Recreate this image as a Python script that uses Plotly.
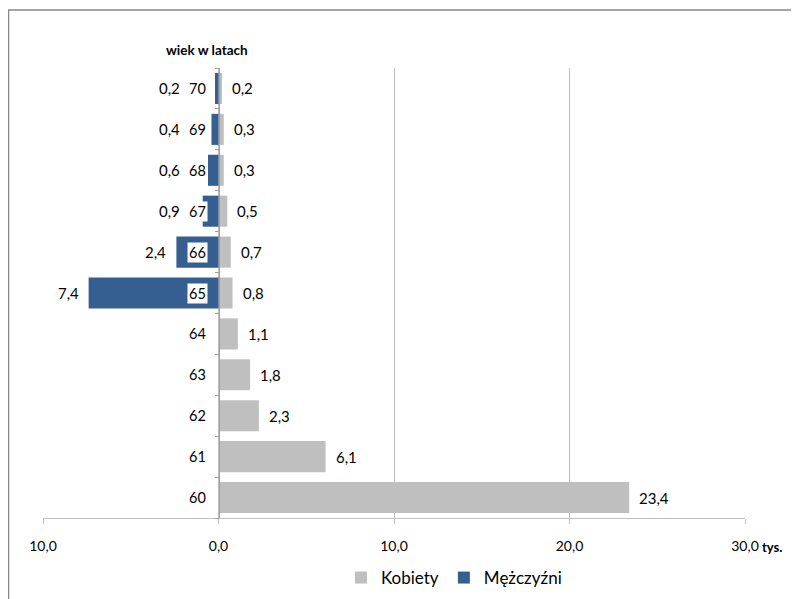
import plotly.graph_objects as go

ages = ["60", "61", "62", "63", "64", "65", "66", "67", "68", "69", "70"]
kobiety = [23.4, 6.1, 2.3, 1.8, 1.1, 0.8, 0.7, 0.5, 0.3, 0.3, 0.2]
mezczyzni = [None, None, None, None, None, 7.4, 2.4, 0.9, 0.6, 0.4, 0.2]
x_ticks = [-10, 0, 10, 20, 30]
x_ticktext = ["10,0", "0,0", "10,0", "20,0", "30,0"]

FONT = "Lato, 'Open Sans', sans-serif"
GRAY = "#BFBFBF"
BLUE = "#365F91"

W, H = 791, 591
PH = 450  # plot height in px

def fmt(v):
    return f"{v:.1f}".replace(".", ",")

fig = go.Figure()
fig.add_trace(go.Bar(
    y=ages, x=kobiety, orientation="h", name="Kobiety",
    marker=dict(color=GRAY, line=dict(width=0)), width=0.76,
))
fig.add_trace(go.Bar(
    y=ages, x=[-v if v is not None else None for v in mezczyzni],
    orientation="h", name="Mężczyźni",
    marker=dict(color=BLUE, line=dict(width=0)), width=0.76,
))

ann = []
for i, v in enumerate(kobiety):
    ann.append(dict(x=v, y=i, xref="x", yref="y", text=fmt(v), showarrow=False,
                    xanchor="left", xshift=8, font=dict(size=15, color="#000")))
for i, v in enumerate(mezczyzni):
    if v is None:
        continue
    ann.append(dict(x=min(-v, -1.6), y=i, xref="x", yref="y", text=fmt(v), showarrow=False,
                    xanchor="right", xshift=-8, font=dict(size=15, color="#000")))
for i, a in enumerate(ages):
    ann.append(dict(x=0, y=i, xref="x", yref="y", text=a, showarrow=False,
                    xanchor="right", xshift=-11, bgcolor="white", borderpad=1,
                    font=dict(size=14.5, color="#000")))
ann.append(dict(x=30, y=0, xref="x", yref="paper", yanchor="middle", yshift=-29,
                text="<b>tys.</b>", showarrow=False, xanchor="left", xshift=15,
                font=dict(size=13, color="#000")))
ann.append(dict(x=(207 - 43) / 702, y=(518 - 50) / PH, xref="paper", yref="paper",
                text="<b>wiek w latach</b>", showarrow=False, xanchor="center", yanchor="middle",
                font=dict(size=13.5, color="#000")))

fig.update_layout(
    width=W, height=H,
    margin=dict(l=35, r=54, t=60, b=81),
    paper_bgcolor="white", plot_bgcolor="white",
    barmode="overlay",
    font=dict(family=FONT, size=13, color="#000"),
    showlegend=True,
    legend=dict(orientation="h", xref="container", yref="container",
                x=(341 - 8) / W, xanchor="left",
                y=1 - (578 - 8) / H, yanchor="middle",
                font=dict(size=17), itemwidth=30, traceorder="normal"),
    annotations=ann,
    shapes=[dict(type="rect", xref="paper", yref="paper",
                 x0=(8.5 - 43) / 702, x1=(830 - 43) / 702,
                 y0=(518 - 650) / PH, y1=(518 - 10) / PH,
                 line=dict(color="#888888", width=1.5), fillcolor="rgba(0,0,0,0)", layer="below")],
    xaxis=dict(range=[-10, 30], tickvals=x_ticks, ticktext=x_ticktext,
               showgrid=True, gridcolor="#BFBFBF", gridwidth=1, zeroline=False,
               showline=True, linecolor="#BFBFBF", linewidth=1,
               ticks="outside", ticklen=5, tickcolor="#BFBFBF", ticklabelstandoff=10,
               tickfont=dict(size=14), fixedrange=True, automargin=False),
    yaxis=dict(type="category", categoryorder="array", categoryarray=ages,
               range=[-0.5, len(ages) - 0.5],
               anchor="free", position=0.25, showline=True, linecolor="#A0A0A0", linewidth=1,
               ticks="outside", tickson="boundaries", ticklen=4, tickcolor="#A0A0A0",
               showticklabels=False, showgrid=False, zeroline=False, fixedrange=True,
               automargin=False),
)

fig.write_html("out.html")
